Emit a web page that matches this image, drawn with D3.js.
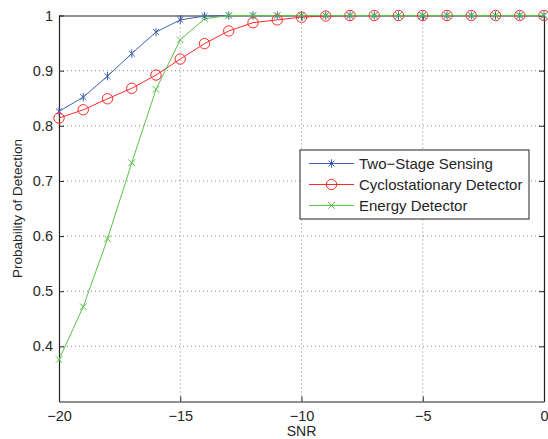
<!DOCTYPE html>
<html><head><meta charset="utf-8">
<script src="https://cdn.jsdelivr.net/npm/d3@7"></script>
<style>body{margin:0;background:#fff}text{font-family:"Liberation Sans",Arial,sans-serif;fill:#262626}</style>
</head><body><svg id="c" width="548" height="439"></svg>
<script>
const snr = [-20,-19,-18,-17,-16,-15,-14,-13,-12,-11,-10,-9,-8,-7,-6,-5,-4,-3,-2,-1,0];
const twoStage = [0.826,0.852,0.890,0.931,0.970,0.992,0.999,1,1,1,1,1,1,1,1,1,1,1,1,1,1];
const cyclo = [0.814,0.829,0.849,0.868,0.892,0.921,0.949,0.972,0.987,0.992,0.997,0.999,1,1,1,1,1,1,1,1,1];
const energy = [0.376,0.472,0.595,0.733,0.866,0.956,0.994,1,1,1,1,1,1,1,1,1,1,1,1,1,1];
const xTicks = [-20,-15,-10,-5,0];
const yTicks = [0.4,0.5,0.6,0.7,0.8,0.9,1];
const seriesNames = ["Two\u2212Stage Sensing","Cyclostationary Detector","Energy Detector"];
const colors = ["#3f5fb0","#ff2a2a","#5ac24a"];
const markers = ["star","circle","x"];

const svg = d3.select("#c");
const L=59,R=544,T=15.5,B=401.5;
const x = d3.scaleLinear().domain([-20,0]).range([L,R]);
const y = d3.scaleLinear().domain([0.3,1]).range([B,T]);

// grid
const g = svg.append("g");
g.selectAll(".gx").data(xTicks.slice(1,-1)).enter().append("line")
 .attr("x1",d=>x(d)).attr("x2",d=>x(d)).attr("y1",T).attr("y2",B)
 .attr("stroke","#555").attr("stroke-width",0.7).attr("stroke-dasharray","1,3");
g.selectAll(".gy").data(yTicks.slice(0,-1)).enter().append("line")
 .attr("y1",d=>y(d)).attr("y2",d=>y(d)).attr("x1",L).attr("x2",R)
 .attr("stroke","#555").attr("stroke-width",0.7).attr("stroke-dasharray","1,3");

// axes
const fmt = d=>d<0?"\u2212"+Math.abs(d):String(d);
const ax = svg.append("g").attr("transform",`translate(0,${B})`).call(d3.axisBottom(x).tickValues(xTicks).tickSizeInner(-5).tickSizeOuter(0).tickPadding(9).tickFormat(fmt));
const axT = svg.append("g").attr("transform",`translate(0,${T})`).call(d3.axisTop(x).tickValues(xTicks).tickSizeInner(-5).tickSizeOuter(0).tickFormat(""));
const ay = svg.append("g").attr("transform",`translate(${L},0)`).call(d3.axisLeft(y).tickValues(yTicks).tickSizeInner(-5).tickSizeOuter(0).tickPadding(6).tickFormat(d=>d===1?"1":d.toFixed(1)));
const ayR = svg.append("g").attr("transform",`translate(${R},0)`).call(d3.axisRight(y).tickValues(yTicks).tickSizeInner(-5).tickSizeOuter(0).tickFormat(""));
[ax,axT,ay,ayR].forEach(a=>{a.select(".domain").attr("stroke","#222").attr("stroke-width",1.2);a.selectAll(".tick line").attr("stroke","#222");a.selectAll("text").style("font-size","14.5px").attr("fill","#262626").style("font-family","Liberation Sans,Arial,sans-serif");});

function drawMarker(sel,type,color){
  if(type==="circle"){sel.append("circle").attr("r",5.2).attr("fill","none").attr("stroke",color).attr("stroke-width",1);}
  else if(type==="x"){const s=3.3;sel.append("path").attr("d",`M${-s},${-s}L${s},${s}M${-s},${s}L${s},${-s}`).attr("stroke",color).attr("stroke-width",1);}
  else {const s=4.2,d=s*0.707;sel.append("path").attr("d",`M0,${-s}L0,${s}M${-d},${-d}L${d},${d}M${-d},${d}L${d},${-d}`).attr("stroke",color).attr("stroke-width",1);}
}
const allSeries=[twoStage,cyclo,energy];
const line=d3.line().x((d,i)=>x(snr[i])).y(d=>y(d));
allSeries.forEach((s,k)=>{
  svg.append("path").datum(s).attr("d",line).attr("fill","none").attr("stroke",colors[k]).attr("stroke-width",1);
});
allSeries.forEach((s,k)=>{
  s.forEach((v,i)=>{const m=svg.append("g").attr("transform",`translate(${x(snr[i])},${y(v)})`);drawMarker(m,markers[k],colors[k]);});
});

// legend
const lg=svg.append("g");
lg.append("rect").attr("x",300).attr("y",150).attr("width",229).attr("height",69).attr("fill","#fff").attr("stroke","#222").attr("stroke-width",1);
const rows=[163.5,184.5,205.5];
seriesNames.forEach((n,k)=>{
  lg.append("line").attr("x1",309).attr("x2",354).attr("y1",rows[k]).attr("y2",rows[k]).attr("stroke",colors[k]).attr("stroke-width",1);
  drawMarker(lg.append("g").attr("transform",`translate(331.5,${rows[k]})`),markers[k],colors[k]);
  lg.append("text").attr("x",359).attr("y",rows[k]+5).style("font-size","15px").text(n);
});

// labels
svg.append("text").attr("x",(L+R)/2).attr("y",436).attr("text-anchor","middle").style("font-size","14px").text("SNR");
svg.append("text").attr("transform",`translate(22,${(T+B)/2}) rotate(-90)`).attr("text-anchor","middle").style("font-size","13.5px").text("Probability of Detection");
</script></body></html>
